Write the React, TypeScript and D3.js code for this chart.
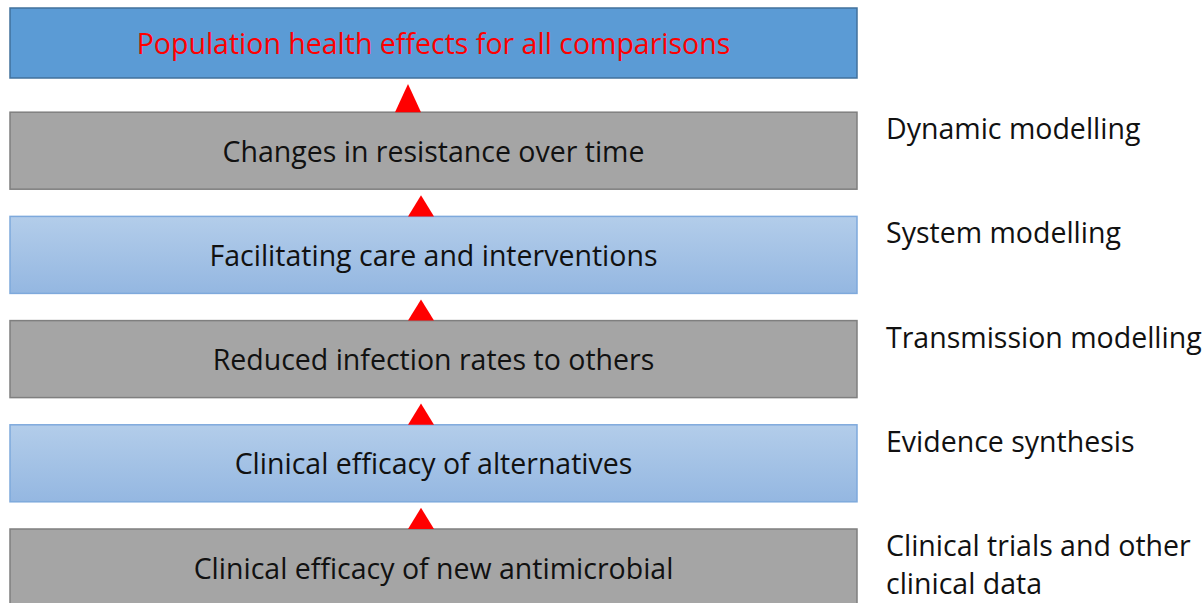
import * as d3 from "d3";

// rows, top to bottom
const boxLabels = [
  "Population health effects for all comparisons",
  "Changes in resistance over time",
  "Facilitating care and interventions",
  "Reduced infection rates to others",
  "Clinical efficacy of alternatives",
  "Clinical efficacy of new antimicrobial",
];
const boxKinds = ["top", "gray", "light", "gray", "light", "gray"];
const sideLabels = [
  [],
  ["Dynamic modelling"],
  ["System modelling"],
  ["Transmission modelling"],
  ["Evidence synthesis"],
  ["Clinical trials and other", "clinical data"],
];

const W = 1204;
const H = 603;

const fills: Record<string, string> = { top: "#5B9BD5", gray: "#A5A5A5", light: "url(#lightGrad)" };
const strokes: Record<string, string> = { top: "#41719C", gray: "#7F7F7F", light: "#7EA9DC" };

export default function App() {
  const idx = d3.range(boxLabels.length);
  const y = d3.scaleLinear().domain([0, boxLabels.length - 1]).range([8, 529]);
  const x = d3.scaleLinear().domain([0, 1]).range([10, 857]);
  const boxH = (i: number) => (i === 0 ? 70 : 77);

  // arrows point up from each box into the one above
  const arrow = (i: number) => {
    const base = y(i);
    const apex = y(i - 1) + boxH(i - 1) + 6;
    const cx = i === 1 ? 408 : 421;
    const p = d3.path();
    p.moveTo(cx - 13, base);
    p.lineTo(cx, apex);
    p.lineTo(cx + 13, base);
    p.closePath();
    return p.toString();
  };

  return (
    <div style={{ position: "absolute", left: 0, top: 0 }}>
      <svg width={W} height={H} style={{ display: "block", fontFamily: "'Open Sans', sans-serif" }}>
        <defs>
          <linearGradient id="lightGrad" x1="0" y1="0" x2="0" y2="1">
            <stop offset="0" stopColor="#B3CDEA" />
            <stop offset="1" stopColor="#94B7E1" />
          </linearGradient>
        </defs>
        <rect width={W} height={H} fill="#fff" />
        {idx.map((i) => (
          <g key={i}>
            <rect
              x={x(0)}
              y={y(i)}
              width={x(1) - x(0)}
              height={boxH(i)}
              fill={fills[boxKinds[i]]}
              stroke={strokes[boxKinds[i]]}
              strokeWidth={1.5}
            />
            <text
              x={(x(0) + x(1)) / 2}
              y={y(i) + boxH(i) / 2}
              textAnchor="middle"
              dominantBaseline="central"
              fontSize={28.5}
              fill={i === 0 ? "#FF0000" : "#111"}
            >
              {boxLabels[i]}
            </text>
            {sideLabels[i].map((s, j) => (
              <text
                key={j}
                x={886}
                y={y(i) + 16 + j * 38}
                dominantBaseline="central"
                fontSize={28.5}
                fill="#111"
              >
                {s}
              </text>
            ))}
          </g>
        ))}
        {idx.slice(1).map((i) => (
          <path key={i} d={arrow(i)} fill="#FF0000" />
        ))}
      </svg>
    </div>
  );
}
